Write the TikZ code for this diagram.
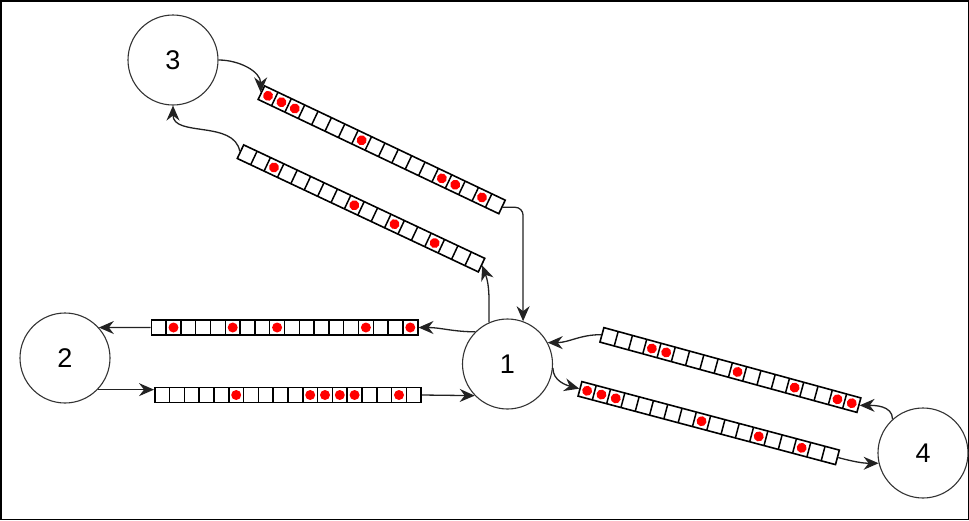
\documentclass[tikz,border=0pt]{standalone}
\usepackage{fontspec}
\setmainfont{Liberation Sans}
\usepackage{tikz}
\usetikzlibrary{arrows.meta,positioning}
\definecolor{packetred}{HTML}{FF0000}
\definecolor{linkgray}{HTML}{222222}
\newcommand{\slotw}{14.8}
\tikzset{
  hostnode/.style={circle,draw=black!80,line width=1.1pt,minimum size=90pt,
    inner sep=0pt,font=\fontsize{27}{32}\selectfont},
  queuebox/.style={draw=black,line width=1.6pt,minimum width=266.4pt,
    minimum height=15pt,inner sep=0pt},
  slotline/.style={draw=black,line width=1.5pt},
  packetdot/.style={fill=packetred},
  linkflow/.style={-{Stealth[length=15pt,width=13pt,inset=5pt]},line width=1.3pt,draw=linkgray}
}
% queue of 18 slots: name, centre, angle, filled slots
\newcommand{\drawqueue}[4]{%
  \node[queuebox,rotate=#3] (#1) at #2 {};
  \begin{scope}[shift={#2},rotate=#3]
    \foreach \k in {1,...,17}
      \draw[slotline] ({(\k-9)*\slotw},-7.5) -- ({(\k-9)*\slotw},7.5);
    \foreach \k in {#4}
      \fill[packetdot] ({(\k-9.5)*\slotw},0) circle (5pt);
  \end{scope}}

\begin{document}
\begin{tikzpicture}[x=1pt,y=-1pt]
\useasboundingbox (0,0) rectangle (969,520);
\draw[line width=1.5pt] (0.75,0.75) rectangle (968.25,519.25);
\node[hostnode] (n1) at (507.5,364) {1};
\node[hostnode] (n2) at (65,358) {2};
\node[hostnode] (n3) at (173,60) {3};
\node[hostnode] (n4) at (923,453) {4};
\drawqueue{qA}{(381.7,149.8)}{-25.4}{1,2,3,8,14,15,17}
\drawqueue{qB}{(361,208.4)}{-25.2}{3,9,12,15}
\drawqueue{qH1}{(284.5,327.5)}{0}{2,6,9,15,18}
\drawqueue{qH2}{(288,395)}{0}{6,11,12,13,14,17}
\drawqueue{qR1}{(730.4,370)}{-15.3}{4,5,10,14,17,18}
\drawqueue{qR2}{(708.7,423.1)}{-14.9}{1,2,3,9,13,16}
\draw[linkflow] (n3.east) to[out=0,in=90] (qA.west);
\draw[linkflow,rounded corners=8pt] (qA.east) -| (n1.70);
\draw[linkflow] (n1.114) to[out=90,in=-70] (qB.east);
\draw[linkflow] (qB.west) to[out=100,in=-90] (n3.south);
\draw[linkflow] (n1.135) to[out=180,in=0] (qH1.east);
\draw[linkflow] (qH1.west) -- (n2.42);
\draw[linkflow] (n2.-44) -- (n2.-44 -| qH2.west);
\draw[linkflow] (qH2.east) -- (n1.224);
\draw[linkflow] (n4.132) to[out=90,in=0] (qR1.east);
\draw[linkflow] (qR1.west) to[out=180,in=0] (n1.28);
\draw[linkflow] (n1.-5) to[out=-90,in=165] (qR2.west);
\draw[linkflow] (qR2.east) to[out=-15,in=180] (n4.193);
\end{tikzpicture}
\end{document}
